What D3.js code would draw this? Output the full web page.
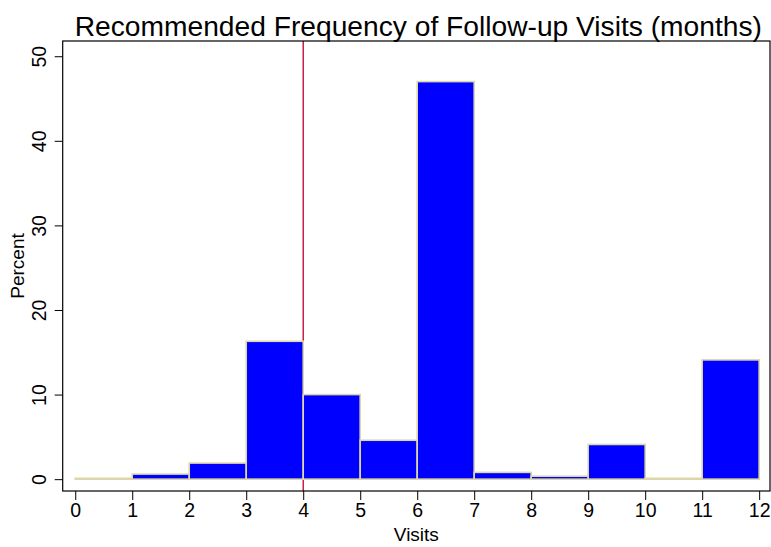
<!DOCTYPE html>
<html>
<head>
<meta charset="utf-8">
<script src="https://cdn.jsdelivr.net/npm/d3@7"></script>
<style>
  body { margin: 0; background: #fff; }
  text { font-family: "Liberation Sans", Arial, sans-serif; fill: #000; }
</style>
</head>
<body>
<svg id="chart" width="771" height="547"></svg>
<script>
// histogram bins (months) and percent per bin
var binStarts = [0, 1, 2, 3, 4, 5, 6, 7, 8, 9, 10, 11];
var percents  = [0.1, 0.6, 1.9, 16.3, 10.0, 4.6, 47.0, 0.8, 0.35, 4.1, 0.1, 14.1];
var xTicks = [0, 1, 2, 3, 4, 5, 6, 7, 8, 9, 10, 11, 12];
var yTicks = [0, 10, 20, 30, 40, 50];
var refLine = 4;

var svg = d3.select("#chart");
var plotL = 62.7, plotR = 770, plotT = 41, plotB = 491;
var fontFam = "Liberation Sans, Arial, sans-serif";

var x = d3.scaleLinear().domain([-0.22, 12.19]).range([plotL, plotR]);
var y = d3.scaleLinear().domain([-1.4, 51.8]).range([plotB, plotT]);

// reference line (sits behind the bars)
svg.append("line")
  .attr("x1", x(refLine)).attr("x2", x(refLine))
  .attr("y1", plotT).attr("y2", plotB)
  .attr("stroke", "#c4103c")
  .attr("stroke-width", 1.4);

// bars
svg.append("g").selectAll("rect")
  .data(binStarts)
  .enter().append("rect")
    .attr("x", function(d) { return x(d); })
    .attr("width", function(d) { return x(d + 1) - x(d); })
    .attr("y", function(d, i) { return y(percents[i]); })
    .attr("height", function(d, i) { return y(0) - y(percents[i]); })
    .attr("fill", "#0000ff")
    .attr("stroke", "#dcd6aa")
    .attr("stroke-width", 1.6);

// frame
svg.append("rect")
  .attr("x", plotL).attr("y", plotT)
  .attr("width", plotR - plotL).attr("height", plotB - plotT)
  .attr("fill", "none").attr("stroke", "#000").attr("stroke-width", 1.2);

// x axis
var xAxis = svg.append("g")
  .attr("transform", "translate(0," + plotB + ")")
  .call(d3.axisBottom(x).tickValues(xTicks).tickSize(9).tickPadding(3).tickFormat(d3.format("d")));
xAxis.select(".domain").remove();
xAxis.selectAll("line").attr("stroke", "#000").attr("stroke-width", 1);
xAxis.selectAll("text").style("font-size", "19.5px").style("font-family", fontFam);

// y axis
var yAxis = svg.append("g")
  .attr("transform", "translate(" + plotL + ",0)")
  .call(d3.axisLeft(y).tickValues(yTicks).tickSize(8).tickPadding(0));
yAxis.select(".domain").remove();
yAxis.selectAll("line").attr("stroke", "#000").attr("stroke-width", 1);
yAxis.selectAll("text")
  .attr("x", 0).attr("dy", 0)
  .attr("transform", "translate(-24,0) rotate(-90)")
  .attr("text-anchor", "middle")
  .attr("dominant-baseline", "central")
  .style("font-size", "19.5px")
  .style("font-family", fontFam);

// titles
svg.append("text")
  .attr("x", (plotL + plotR) / 2 + 2).attr("y", 36)
  .attr("text-anchor", "middle")
  .style("font-size", "28.2px")
  .text("Recommended Frequency of Follow-up Visits (months)");

svg.append("text")
  .attr("x", (plotL + plotR) / 2).attr("y", 541)
  .attr("text-anchor", "middle")
  .style("font-size", "19px")
  .text("Visits");

svg.append("text")
  .attr("transform", "translate(24," + ((plotT + plotB) / 2) + ") rotate(-90)")
  .attr("text-anchor", "middle")
  .style("font-size", "19px")
  .text("Percent");
</script>
</body>
</html>
